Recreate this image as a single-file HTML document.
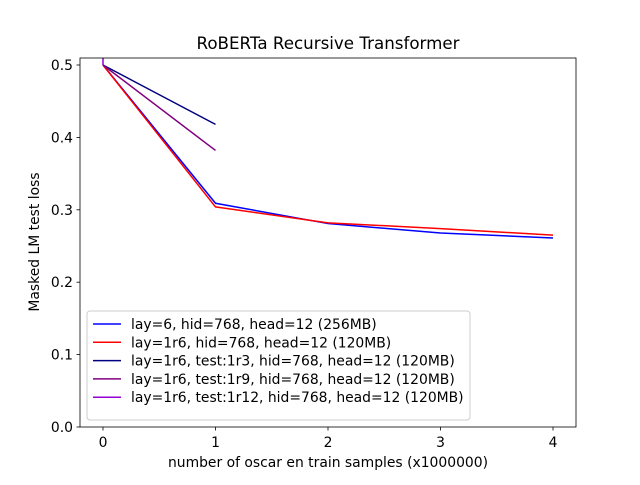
<!DOCTYPE html>
<html><head><meta charset="utf-8"><style>
body{margin:0;background:#fff;}
svg text{font-family:"DejaVu Sans","Liberation Sans",sans-serif;fill:#000;}
</style></head><body>
<svg id="chart" width="640" height="480" xmlns="http://www.w3.org/2000/svg">
<rect width="640" height="480" fill="#fff"/>
<defs><clipPath id="pc"><rect x="80" y="58" width="496" height="369"/></clipPath></defs>
<text x="328" y="49" font-size="16.7" text-anchor="middle">RoBERTa Recursive Transformer</text>
<g id="xt"></g><g id="yt"></g>
<g id="series" clip-path="url(#pc)"></g>
<rect x="80" y="58" width="496" height="369" fill="none" stroke="#000" stroke-width="0.8"/>
<text x="328" y="467" font-size="13.9" text-anchor="middle">number of oscar en train samples (x1000000)</text>
<text transform="translate(39,242) rotate(-90)" font-size="13.9" text-anchor="middle">Masked LM test loss</text>
<g id="legend"></g>
</svg>
<script>
const xTicks=[0,1,2,3,4];
const yTicks=[0.0,0.1,0.2,0.3,0.4,0.5];
const seriesNames=["lay=6, hid=768, head=12 (256MB)","lay=1r6, hid=768, head=12 (120MB)","lay=1r6, test:1r3, hid=768, head=12 (120MB)","lay=1r6, test:1r9, hid=768, head=12 (120MB)","lay=1r6, test:1r12, hid=768, head=12 (120MB)"];
const seriesColors=["#0000ff","#ff0000","#000080","#800080","#9400d3"];
const xBlue=[0,1,2,3,4], yBlue=[0.5,0.309,0.281,0.268,0.261];
const xRed=[0,1,2,3,4], yRed=[0.5,0.304,0.282,0.274,0.265];
const xNavy=[0,1], yNavy=[0.5,0.418];
const xPurple=[0,1], yPurple=[0.5,0.382];
const xViolet=[0,0.001], yViolet=[0.5,0.6];
const X=v=>103+v*112.5, Y=v=>427-v*724;
const NS="http://www.w3.org/2000/svg";
function mk(t,a,p){const e=document.createElementNS(NS,t);for(const k in a)e.setAttribute(k,a[k]);p.appendChild(e);return e;}
const xt=document.getElementById('xt'),yt=document.getElementById('yt');
xTicks.forEach(v=>{const l=mk('line',{x1:X(v),x2:X(v),y1:427,y2:430.5,stroke:'#000','stroke-width':0.8},xt);


const t=mk('text',{x:X(v),y:447,'font-size':13.9,'text-anchor':'middle'},xt);t.textContent=v;

});
yTicks.forEach(v=>{const l=mk('line',{x1:76.5,x2:80,y1:Y(v),y2:Y(v),stroke:'#000','stroke-width':0.8},yt);


const t=mk('text',{x:73,y:Y(v)+5,'font-size':13.9,'text-anchor':'end'},yt);t.textContent=v.toFixed(1);

});
const sg=document.getElementById('series');
const data=[[xBlue,yBlue],[xRed,yRed],[xNavy,yNavy],[xPurple,yPurple],[xViolet,yViolet]];
const snames=['series-blue-lay6','series-red-1r6','series-navy-1r3','series-purple-1r9','series-violet-1r12'];
data.forEach((d,i)=>{const p=mk('polyline',{points:d[0].map((x,j)=>X(x)+','+Y(d[1][j])).join(' '),fill:'none',stroke:seriesColors[i],'stroke-width':1.5},sg);

});
const lg=document.getElementById('legend');
const box=mk('rect',{x:87,y:311,width:383,height:109,rx:3,fill:'#fff','fill-opacity':0.8,stroke:'#ccc','stroke-width':1},lg);


seriesNames.forEach((n,i)=>{const y=324+i*18.3;
const l=mk('line',{x1:93,x2:121,y1:y,y2:y,stroke:seriesColors[i],'stroke-width':1.5},lg);


const t=mk('text',{x:131,y:y+5,'font-size':13.9},lg);t.textContent=n;

});
</script>
</body></html>
